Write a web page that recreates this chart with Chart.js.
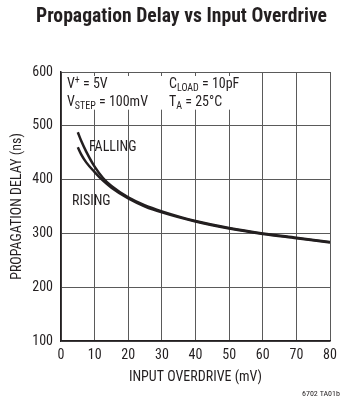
<!DOCTYPE html>
<html>
<head>
<meta charset="utf-8">
<script src="https://cdn.jsdelivr.net/npm/chart.js@4/dist/chart.umd.min.js"></script>
<style>
html,body{margin:0;padding:0;background:#fff;}
#wrap{width:359px;height:397px;position:relative;}
</style>
</head>
<body>
<div id="wrap"><canvas id="c" width="359" height="397"></canvas></div>
<script>
// ---- data ----
const chartTitle = 'Propagation Delay vs Input Overdrive';
const fallingX = [5, 6, 7.5, 10, 12.5, 15, 20, 25, 30, 40, 50, 60, 70, 80];
const fallingY = [488, 472, 452, 424, 403, 388, 367, 352, 341, 323, 310, 300, 292, 284];
const risingX  = [5, 6, 7.5, 10, 12.5, 15, 20, 25, 30, 40, 50, 60, 70, 80];
const risingY  = [460, 447, 432, 414, 398, 385, 365, 350, 339, 322, 309, 299, 291, 283];
const xTicks = [0, 10, 20, 30, 40, 50, 60, 70, 80];
const yTicks = [100, 200, 300, 400, 500, 600];

const FONT = '"Roboto Condensed", "DejaVu Sans Condensed", sans-serif';
const INK = '#231f20';

const toPts = (xs, ys) => xs.map((x, i) => ({x: x, y: ys[i]}));

const overlay = {
  id: 'overlay',
  beforeDatasetsDraw(chart) {
    const {ctx, chartArea: a, scales: {x, y}} = chart;
    ctx.save();
    ctx.fillStyle = '#fff';
    ctx.fillRect(a.left + 1, a.top + 4, x.getPixelForValue(56) - a.left - 1, y.getPixelForValue(530) - a.top - 4);
    ctx.restore();
  },
  afterDraw(chart) {
    const {ctx} = chart;
    ctx.save();
    ctx.fillStyle = INK;
    ctx.textBaseline = 'alphabetic';
    ctx.textAlign = 'left';
    // title
    ctx.font = 'bold 21px ' + FONT;
    const tw = ctx.measureText(chartTitle).width;
    const target = 291;
    ctx.save();
    ctx.translate(181.5, 22);
    if (tw > target) ctx.scale(target / tw, 1);
    ctx.textAlign = 'center';
    ctx.fillText(chartTitle, 0, 0);
    ctx.restore();

    const big = '14px ' + FONT;
    const sub = '10px ' + FONT;
    function seq(x0, yb, parts) {
      let xx = x0;
      for (const p of parts) {
        ctx.font = p[1] === 'n' ? big : sub;
        const dy = p[1] === 'sub' ? 3 : (p[1] === 'sup' ? -5 : 0);
        ctx.fillText(p[0], xx, yb + dy);
        xx += ctx.measureText(p[0]).width;
      }
    }
    seq(67, 88, [['V', 'n'], ['+', 'sup'], [' = 5V', 'n']]);
    seq(67, 106, [['V', 'n'], ['STEP', 'sub'], [' = 100mV', 'n']]);
    seq(169, 88, [['C', 'n'], ['LOAD', 'sub'], [' = 10pF', 'n']]);
    seq(169, 106, [['T', 'n'], ['A', 'sub'], [' = 25°C', 'n']]);
    ctx.font = big;
    ctx.fillText('FALLING', 89, 151);
    ctx.fillText('RISING', 72, 205);
    ctx.font = '8px ' + FONT;
    ctx.fillText('6702 TA01b', 302, 396);
    ctx.restore();
  }
};

new Chart(document.getElementById('c'), {
  type: 'line',
  data: {
    datasets: [
      {label: 'FALLING', data: toPts(fallingX, fallingY), borderColor: INK, borderWidth: 2.5, pointRadius: 0, cubicInterpolationMode: 'monotone', fill: false},
      {label: 'RISING', data: toPts(risingX, risingY), borderColor: INK, borderWidth: 2.5, pointRadius: 0, cubicInterpolationMode: 'monotone', fill: false}
    ]
  },
  options: {
    responsive: false,
    animation: false,
    devicePixelRatio: 1,
    layout: {padding: {top: 72, right: 29, left: 0, bottom: 0}},
    plugins: {
      legend: {display: false},
      tooltip: {enabled: false},
      title: {display: false}
    },
    scales: {
      x: {
        type: 'linear', min: 0, max: 80,
        afterBuildTicks: s => { s.ticks = xTicks.map(v => ({value: v})); },
        afterFit: s => { s.height = 56; },
        grid: {color: '#5a5a5a', lineWidth: 1, drawTicks: false},
        border: {color: INK, width: 1.5},
        ticks: {color: INK, padding: 6, font: {family: FONT, size: 14}, maxRotation: 0},
        title: {display: true, text: 'INPUT OVERDRIVE (mV)', color: INK, font: {family: FONT, size: 14}, padding: {top: 0, bottom: 11}}
      },
      y: {
        type: 'linear', min: 100, max: 600,
        afterBuildTicks: s => { s.ticks = yTicks.map(v => ({value: v})); },
        afterFit: s => { s.width = 61; },
        grid: {color: '#5a5a5a', lineWidth: 1, drawTicks: false},
        border: {color: INK, width: 1.5},
        ticks: {color: INK, padding: 8, font: {family: FONT, size: 14}},
        title: {display: true, text: 'PROPAGATION DELAY (ns)', color: INK, font: {family: FONT, size: 14}, padding: {top: 9, bottom: 0}}
      }
    }
  },
  plugins: [overlay]
});
</script>
</body>
</html>
